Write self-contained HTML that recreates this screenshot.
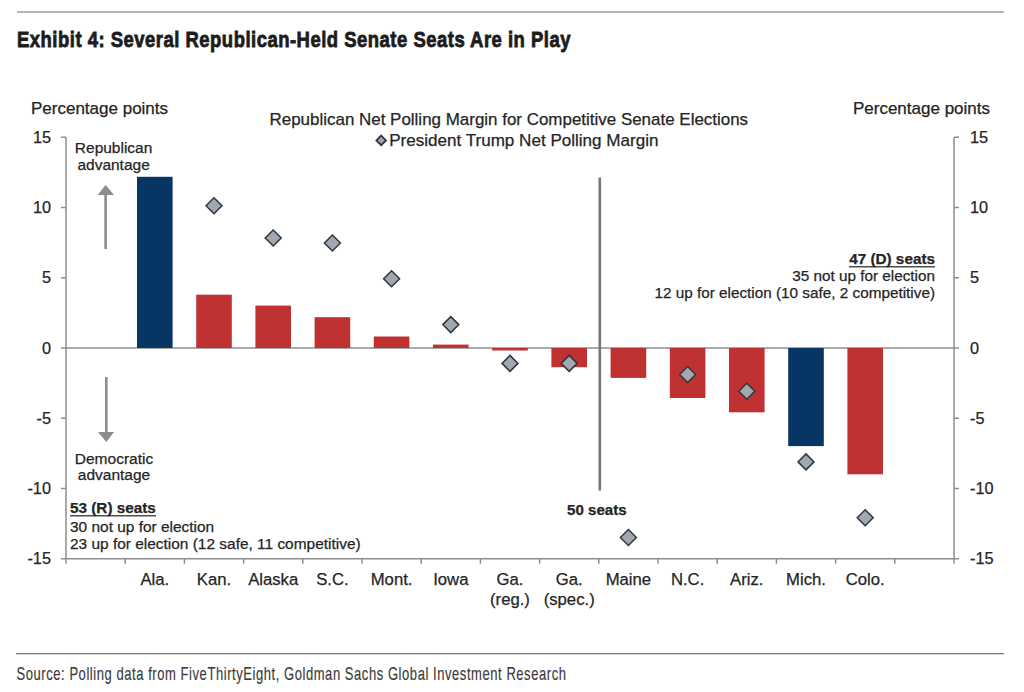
<!DOCTYPE html>
<html><head><meta charset="utf-8"><style>
html,body{margin:0;padding:0;background:#fff;}
body{width:1024px;height:692px;overflow:hidden;position:relative;}
svg{position:absolute;left:0;top:0;}
text{font-family:"Liberation Sans",sans-serif;fill:#252525;stroke:#252525;stroke-width:0.25px;}
</style></head><body>
<svg width="1024" height="692" viewBox="0 0 1024 692">

<rect x="17" y="11" width="987" height="2" fill="#b4b4b4"/>
<rect x="16" y="653" width="988" height="1.3" fill="#7a7a7a"/>
<text x="17" y="46.5" font-size="22" font-weight="bold" letter-spacing="0.6" textLength="554" lengthAdjust="spacingAndGlyphs" style="fill:#1c1c1c;stroke:#1c1c1c;stroke-width:0.8px">Exhibit 4: Several Republican-Held Senate Seats Are in Play</text>
<text x="16.5" y="680" font-size="18.5" letter-spacing="0.8" textLength="550" lengthAdjust="spacingAndGlyphs" style="fill:#3a3a3a;stroke:#3a3a3a;stroke-width:0.15px">Source: Polling data from FiveThirtyEight, Goldman Sachs Global Investment Research</text>
<text x="31" y="113.7" font-size="17" style="fill:#222">Percentage points</text>
<text x="990" y="113.7" font-size="17" text-anchor="end" style="fill:#222">Percentage points</text>
<text x="269.5" y="125.4" font-size="17" textLength="478.6" lengthAdjust="spacingAndGlyphs">Republican Net Polling Margin for Competitive Senate Elections</text>
<text x="389.2" y="145.7" font-size="17" textLength="269.3" lengthAdjust="spacingAndGlyphs">President Trump Net Polling Margin</text>
<path d="M381.2 135.6 L386 140.4 L381.2 145.2 L376.4 140.4 Z" fill="#a3a8ae" stroke="#2c3744" stroke-width="1.8"/>
<rect x="65.25" y="137.25" width="1.5" height="426.5" fill="#8e8e8e"/>
<rect x="953.25" y="137.25" width="1.5" height="426.5" fill="#8e8e8e"/>
<rect x="61.0" y="136.5" width="5" height="1.5" fill="#8e8e8e"/>
<rect x="954.0" y="136.5" width="5" height="1.5" fill="#8e8e8e"/>
<rect x="61.0" y="206.75" width="5" height="1.5" fill="#8e8e8e"/>
<rect x="954.0" y="206.75" width="5" height="1.5" fill="#8e8e8e"/>
<rect x="61.0" y="277.0" width="5" height="1.5" fill="#8e8e8e"/>
<rect x="954.0" y="277.0" width="5" height="1.5" fill="#8e8e8e"/>
<rect x="61.0" y="347.25" width="5" height="1.5" fill="#8e8e8e"/>
<rect x="954.0" y="347.25" width="5" height="1.5" fill="#8e8e8e"/>
<rect x="61.0" y="417.5" width="5" height="1.5" fill="#8e8e8e"/>
<rect x="954.0" y="417.5" width="5" height="1.5" fill="#8e8e8e"/>
<rect x="61.0" y="487.75" width="5" height="1.5" fill="#8e8e8e"/>
<rect x="954.0" y="487.75" width="5" height="1.5" fill="#8e8e8e"/>
<rect x="61.0" y="558.0" width="5" height="1.5" fill="#8e8e8e"/>
<rect x="954.0" y="558.0" width="5" height="1.5" fill="#8e8e8e"/>
<rect x="66.0" y="347.25" width="888.0" height="1.5" fill="#8e8e8e"/>
<rect x="66.0" y="558.0" width="888.0" height="1.5" fill="#8e8e8e"/>
<rect x="124.45" y="558.75" width="1.5" height="5" fill="#8e8e8e"/>
<rect x="183.65" y="558.75" width="1.5" height="5" fill="#8e8e8e"/>
<rect x="242.85000000000002" y="558.75" width="1.5" height="5" fill="#8e8e8e"/>
<rect x="302.05" y="558.75" width="1.5" height="5" fill="#8e8e8e"/>
<rect x="361.25" y="558.75" width="1.5" height="5" fill="#8e8e8e"/>
<rect x="420.45000000000005" y="558.75" width="1.5" height="5" fill="#8e8e8e"/>
<rect x="479.65000000000003" y="558.75" width="1.5" height="5" fill="#8e8e8e"/>
<rect x="538.85" y="558.75" width="1.5" height="5" fill="#8e8e8e"/>
<rect x="598.0500000000001" y="558.75" width="1.5" height="5" fill="#8e8e8e"/>
<rect x="657.25" y="558.75" width="1.5" height="5" fill="#8e8e8e"/>
<rect x="716.45" y="558.75" width="1.5" height="5" fill="#8e8e8e"/>
<rect x="775.6500000000001" y="558.75" width="1.5" height="5" fill="#8e8e8e"/>
<rect x="834.85" y="558.75" width="1.5" height="5" fill="#8e8e8e"/>
<rect x="894.0500000000001" y="558.75" width="1.5" height="5" fill="#8e8e8e"/>
<text x="51" y="142.85" font-size="16.3" text-anchor="end">15</text>
<text x="970" y="142.85" font-size="16.3">15</text>
<text x="51" y="213.1" font-size="16.3" text-anchor="end">10</text>
<text x="970" y="213.1" font-size="16.3">10</text>
<text x="51" y="283.35" font-size="16.3" text-anchor="end">5</text>
<text x="970" y="283.35" font-size="16.3">5</text>
<text x="51" y="353.6" font-size="16.3" text-anchor="end">0</text>
<text x="970" y="353.6" font-size="16.3">0</text>
<text x="51" y="423.85" font-size="16.3" text-anchor="end">-5</text>
<text x="970" y="423.85" font-size="16.3">-5</text>
<text x="51" y="494.1" font-size="16.3" text-anchor="end">-10</text>
<text x="970" y="494.1" font-size="16.3">-10</text>
<text x="51" y="564.35" font-size="16.3" text-anchor="end">-15</text>
<text x="970" y="564.35" font-size="16.3">-15</text>
<rect x="137.00" y="176.8" width="35.6" height="171.20" fill="#073564"/>
<rect x="196.20" y="294.7" width="35.6" height="53.30" fill="#c03131"/>
<rect x="255.40" y="305.6" width="35.6" height="42.40" fill="#c03131"/>
<rect x="314.60" y="317.2" width="35.6" height="30.80" fill="#c03131"/>
<rect x="373.80" y="336.5" width="35.6" height="11.50" fill="#c03131"/>
<rect x="433.00" y="344.6" width="35.6" height="3.40" fill="#c03131"/>
<rect x="492.20" y="348.0" width="35.6" height="2.50" fill="#c03131"/>
<rect x="551.40" y="348.0" width="35.6" height="19.20" fill="#c03131"/>
<rect x="610.60" y="348.0" width="35.6" height="29.90" fill="#c03131"/>
<rect x="669.80" y="348.0" width="35.6" height="50.00" fill="#c03131"/>
<rect x="729.00" y="348.0" width="35.6" height="64.30" fill="#c03131"/>
<rect x="788.20" y="348.0" width="35.6" height="98.10" fill="#073564"/>
<rect x="847.40" y="348.0" width="35.6" height="126.30" fill="#c03131"/>
<rect x="598.5" y="177.5" width="2.6" height="313" fill="#767676"/>
<path d="M214.00 197.70 L222.00 205.70 L214.00 213.70 L206.00 205.70 Z" fill="#a3a8ae" stroke="#2c3744" stroke-width="1.5"/>
<path d="M273.20 230.00 L281.20 238.00 L273.20 246.00 L265.20 238.00 Z" fill="#a3a8ae" stroke="#2c3744" stroke-width="1.5"/>
<path d="M332.40 235.00 L340.40 243.00 L332.40 251.00 L324.40 243.00 Z" fill="#a3a8ae" stroke="#2c3744" stroke-width="1.5"/>
<path d="M391.60 270.80 L399.60 278.80 L391.60 286.80 L383.60 278.80 Z" fill="#a3a8ae" stroke="#2c3744" stroke-width="1.5"/>
<path d="M450.80 316.60 L458.80 324.60 L450.80 332.60 L442.80 324.60 Z" fill="#a3a8ae" stroke="#2c3744" stroke-width="1.5"/>
<path d="M510.00 355.40 L518.00 363.40 L510.00 371.40 L502.00 363.40 Z" fill="#a3a8ae" stroke="#2c3744" stroke-width="1.5"/>
<path d="M569.20 355.40 L577.20 363.40 L569.20 371.40 L561.20 363.40 Z" fill="#a3a8ae" stroke="#2c3744" stroke-width="1.5"/>
<path d="M628.40 529.50 L636.40 537.50 L628.40 545.50 L620.40 537.50 Z" fill="#a3a8ae" stroke="#2c3744" stroke-width="1.5"/>
<path d="M687.60 366.50 L695.60 374.50 L687.60 382.50 L679.60 374.50 Z" fill="#a3a8ae" stroke="#2c3744" stroke-width="1.5"/>
<path d="M746.80 383.30 L754.80 391.30 L746.80 399.30 L738.80 391.30 Z" fill="#a3a8ae" stroke="#2c3744" stroke-width="1.5"/>
<path d="M806.00 453.90 L814.00 461.90 L806.00 469.90 L798.00 461.90 Z" fill="#a3a8ae" stroke="#2c3744" stroke-width="1.5"/>
<path d="M865.20 509.70 L873.20 517.70 L865.20 525.70 L857.20 517.70 Z" fill="#a3a8ae" stroke="#2c3744" stroke-width="1.5"/>
<text x="154.80" y="584.5" font-size="16.7" text-anchor="middle">Ala.</text>
<text x="214.00" y="584.5" font-size="16.7" text-anchor="middle">Kan.</text>
<text x="273.20" y="584.5" font-size="16.7" text-anchor="middle">Alaska</text>
<text x="332.40" y="584.5" font-size="16.7" text-anchor="middle">S.C.</text>
<text x="391.60" y="584.5" font-size="16.7" text-anchor="middle">Mont.</text>
<text x="450.80" y="584.5" font-size="16.7" text-anchor="middle">Iowa</text>
<text x="510.00" y="584.5" font-size="16.7" text-anchor="middle">Ga.</text>
<text x="510.00" y="604.5" font-size="16.7" text-anchor="middle">(reg.)</text>
<text x="569.20" y="584.5" font-size="16.7" text-anchor="middle">Ga.</text>
<text x="569.20" y="604.5" font-size="16.7" text-anchor="middle">(spec.)</text>
<text x="628.40" y="584.5" font-size="16.7" text-anchor="middle">Maine</text>
<text x="687.60" y="584.5" font-size="16.7" text-anchor="middle">N.C.</text>
<text x="746.80" y="584.5" font-size="16.7" text-anchor="middle">Ariz.</text>
<text x="806.00" y="584.5" font-size="16.7" text-anchor="middle">Mich.</text>
<text x="865.20" y="584.5" font-size="16.7" text-anchor="middle">Colo.</text>
<text x="113.6" y="152.9" font-size="15.5" text-anchor="middle">Republican</text>
<text x="113.6" y="170.4" font-size="15.5" text-anchor="middle">advantage</text>
<text x="114" y="463.6" font-size="15.5" text-anchor="middle">Democratic</text>
<text x="114" y="479.8" font-size="15.5" text-anchor="middle">advantage</text>
<rect x="104.3" y="193" width="2.6" height="56" fill="#8c8c8c"/>
<path d="M97.6 195 L105.6 185 L114 195 Z" fill="#8c8c8c"/>
<rect x="105" y="377" width="2.6" height="56" fill="#8c8c8c"/>
<path d="M98 432 L106.3 442 L114 432 Z" fill="#8c8c8c"/>
<text x="70" y="513.4" font-size="15.3" font-weight="bold">53 (R) seats</text>
<rect x="70" y="515.2" width="86" height="1.2" fill="#222"/>
<text x="70" y="531.6" font-size="15.45">30 not up for election</text>
<text x="70" y="548.8" font-size="15.45">23 up for election (12 safe, 11 competitive)</text>
<text x="935" y="264.4" font-size="15.3" font-weight="bold" text-anchor="end">47 (D) seats</text>
<rect x="849" y="266.2" width="86" height="1.2" fill="#222"/>
<text x="935" y="280.6" font-size="15.3" text-anchor="end">35 not up for election</text>
<text x="935" y="297.8" font-size="15.3" text-anchor="end">12 up for election (10 safe, 2 competitive)</text>
<text x="596.8" y="515.3" font-size="15.1" font-weight="bold" text-anchor="middle">50 seats</text>
</svg>
</body></html>
